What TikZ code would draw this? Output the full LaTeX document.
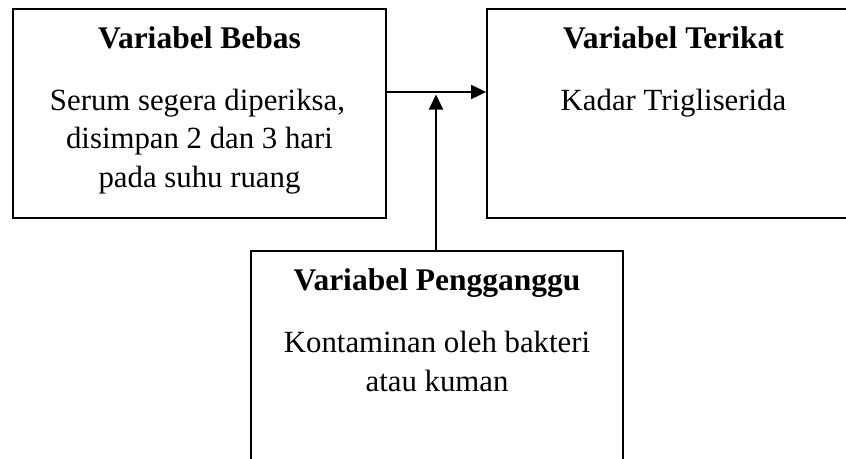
\documentclass[tikz,border=0pt]{standalone}
\usepackage{fontspec}
\setmainfont{Liberation Serif}
\usetikzlibrary{arrows.meta}
\tikzset{
  box/.style={draw=black, line width=1.8pt, inner sep=0pt, fill=none},
  ttl/.style={anchor=base, inner sep=0pt, font=\fontsize{31.5}{38.5}\selectfont\bfseries},
  txt/.style={anchor=base, inner sep=0pt, font=\fontsize{30.8}{38.5}\selectfont},
  arr/.style={line width=1.8pt, -{Triangle[length=15pt,width=14pt]}}
}
\begin{document}
\begin{tikzpicture}[x=1pt,y=-1pt]
\useasboundingbox (0,0) rectangle (846,458);
\clip (0,0) rectangle (846,458);
% boxes
\node[box, minimum width=373pt, minimum height=209pt] (bebas) at (199.5,113.5) {};
\node[box, minimum width=373pt, minimum height=209pt] (terikat) at (673.5,113.5) {};
\node[box, minimum width=372pt, minimum height=250pt] (ganggu) at (437,376) {};
% texts left
\node[ttl] (t1) at (199.5,48) {Variabel Bebas};
\node[txt] (b1a) at (197.5,110) {Serum segera diperiksa,};
\node[txt] (b1b) at (199.5,148.5) {disimpan 2 dan 3 hari};
\node[txt] (b1c) at (199.5,187) {pada suhu ruang};
% texts right
\node[ttl] (t2) at (673.5,48) {Variabel Terikat};
\node[txt] (b2a) at (673.5,110) {Kadar Trigliserida};
% texts bottom
\node[ttl] (t3) at (437,290) {Variabel Pengganggu};
\node[txt] (b3a) at (437,352) {Kontaminan oleh bakteri};
\node[txt] (b3b) at (437,391) {atau kuman};
% arrows
\coordinate (meet) at (436,94.5);
\draw[arr] (bebas.east |- 0,92) -- (terikat.west |- 0,92);
\draw[arr] (ganggu.north -| meet) -- (meet);
\end{tikzpicture}
\end{document}
